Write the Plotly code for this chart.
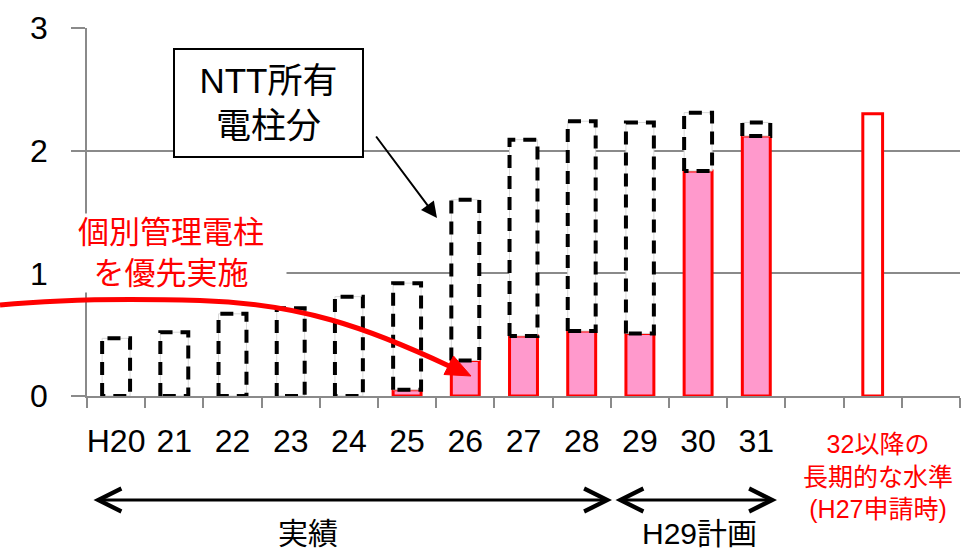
import plotly.graph_objects as go

# ---- data ----
years = ["H20", "21", "22", "23", "24", "25", "26", "27", "28", "29", "30", "31"]
total_poles = [0.47, 0.52, 0.67, 0.715, 0.81, 0.92, 1.60, 2.09, 2.24, 2.23, 2.31, 2.23]
individual_poles = [None, None, None, None, None, 0.05, 0.29, 0.49, 0.53, 0.51, 1.835, 2.12]
long_term_label = "32以降の<br>長期的な水準<br>(H27申請時)"
long_term_value = [2.30]

# ---- layout constants (pixels) ----
W_FIG, H_FIG = 961, 551
L, T, R, B = 87, 28, 1, 155
PW, PH = W_FIG - L - R, H_FIG - T - B
FONT = "Liberation Sans, Noto Sans CJK JP, sans-serif"
GRID = "#8a8a8a"
BAR_W = 0.48


def px(x):
    return (x - L) / PW


def py(y):
    return (T + PH - y) / PH


def pt(x, y):
    return f"{px(x):.5f},{py(y):.5f}"


xs = list(range(len(years)))
x_long = [len(years) + 1]

fig = go.Figure()

# pink individual-management bars
fig.add_trace(go.Bar(
    x=xs, y=individual_poles, width=BAR_W,
    marker=dict(color="#FF99CC", line=dict(color="#FF0000", width=3)),
    hoverinfo="skip",
))

# NTT-owned part (stacked on top of the pink part)
bases = [p if p is not None else 0 for p in individual_poles]
ntt_part = [t - b for t, b in zip(total_poles, bases)]
fig.add_trace(go.Bar(
    x=xs, y=ntt_part, base=bases, width=BAR_W,
    marker=dict(color="white", line=dict(color="#d8d8d8", width=1)),
    hoverinfo="skip",
))

# dashed outline around the NTT part
ox, oy = [], []
for xi, b, t in zip(xs, bases, total_poles):
    x0, x1 = xi - BAR_W / 2, xi + BAR_W / 2
    ox += [x0, x0, x1, x1, x0, None]
    oy += [b, t, t, b, b, None]
fig.add_trace(go.Scatter(
    x=ox, y=oy, mode="lines",
    line=dict(color="black", width=4, dash="13px,8px"),
    hoverinfo="skip",
))

# long-term level bar
fig.add_trace(go.Bar(
    x=x_long, y=long_term_value, width=0.34,
    marker=dict(color="white", line=dict(color="#FF0000", width=3)),
    hoverinfo="skip",
))

# ---- red curved arrow ----
curve = ("M " + pt(0, 305) + " C " + pt(60, 299) + " " + pt(130, 298.4) + " " + pt(200, 300.5)
         + " C " + pt(300, 303.5) + " " + pt(367.6, 327.7) + " " + pt(449, 366))
shapes = [
    dict(type="path", xref="paper", yref="paper", path=curve,
         line=dict(color="#FF0000", width=5), layer="above"),
    dict(type="path", xref="paper", yref="paper",
         path="M " + pt(471, 376) + " L " + pt(444, 374.5) + " L " + pt(453.5, 356) + " Z",
         fillcolor="#FF0000", line=dict(color="#FF0000", width=1), layer="above"),
]

annotations = [
    # NTT box
    dict(xref="paper", yref="paper", x=px(268.5), y=py(103), xanchor="center", yanchor="middle",
         text="NTT所有<br>電柱分", showarrow=False, font=dict(family=FONT, size=35, color="black"),
         bgcolor="white", bordercolor="black", borderwidth=2, width=185, height=104),
    # black arrow from box
    dict(xref="paper", yref="paper", x=px(437), y=py(218), ax=375 - 437, ay=135 - 218,
         axref="pixel", ayref="pixel", text="", showarrow=True,
         arrowhead=2, arrowwidth=2, arrowsize=1.6, arrowcolor="black", standoff=0),
    # red text
    dict(xref="paper", yref="paper", x=px(171), y=py(252.5), xanchor="center", yanchor="middle",
         text="個別管理電柱<br>を優先実施", showarrow=False, font=dict(family=FONT, size=31, color="#FF0000"),
         bgcolor="white", width=228, height=76),
    # long-term label
    dict(xref="paper", yref="paper", x=px(878), y=py(476), xanchor="center", yanchor="middle",
         text=long_term_label, showarrow=False, font=dict(family=FONT, size=25, color="#FF0000")),
    # period arrows
    dict(xref="paper", yref="paper", x=px(612), y=py(500), ax=92 - 612, ay=0,
         axref="pixel", ayref="pixel", text="", showarrow=True, arrowside="end+start",
         arrowhead=5, startarrowhead=5, arrowwidth=3, arrowsize=1.5, startarrowsize=1.5,
         arrowcolor="black", standoff=0, startstandoff=0),
    dict(xref="paper", yref="paper", x=px(777), y=py(500), ax=614 - 777, ay=0,
         axref="pixel", ayref="pixel", text="", showarrow=True, arrowside="end+start",
         arrowhead=5, startarrowhead=5, arrowwidth=3, arrowsize=1.5, startarrowsize=1.5,
         arrowcolor="black", standoff=0, startstandoff=0),
    dict(xref="paper", yref="paper", x=px(308), y=py(533), xanchor="center", yanchor="middle",
         text="実績", showarrow=False, font=dict(family=FONT, size=30, color="black")),
    dict(xref="paper", yref="paper", x=px(699), y=py(533), xanchor="center", yanchor="middle",
         text="H29計画", showarrow=False, font=dict(family=FONT, size=30, color="black")),
]

fig.update_layout(
    width=W_FIG, height=H_FIG,
    margin=dict(l=L, r=R, t=T, b=B),
    paper_bgcolor="white", plot_bgcolor="white",
    barmode="overlay", showlegend=False,
    shapes=shapes, annotations=annotations,
    font=dict(family=FONT, color="black"),
)
fig.update_xaxes(
    range=[-0.5, 14.5], tickmode="array", tickvals=xs, ticktext=years,
    showgrid=False, zeroline=False, showline=True, linecolor=GRID, linewidth=1.5,
    ticks="", tickfont=dict(family=FONT, size=32, color="black"), ticklabelstandoff=16,
    minor=dict(tickmode="array", tickvals=[i - 0.5 for i in range(16)], ticks="outside",
               ticklen=10, tickwidth=1.5, tickcolor=GRID, showgrid=False),
)
fig.update_yaxes(
    range=[0, 3], tickmode="array", tickvals=[0, 1, 2, 3],
    showgrid=True, gridcolor=GRID, gridwidth=1.5, zeroline=False,
    showline=True, linecolor=GRID, linewidth=1.5,
    ticks="outside", ticklen=14, tickwidth=1.5, tickcolor=GRID,
    tickfont=dict(family=FONT, size=32, color="black"), ticklabelstandoff=17,
)

fig.write_html("out.html")
